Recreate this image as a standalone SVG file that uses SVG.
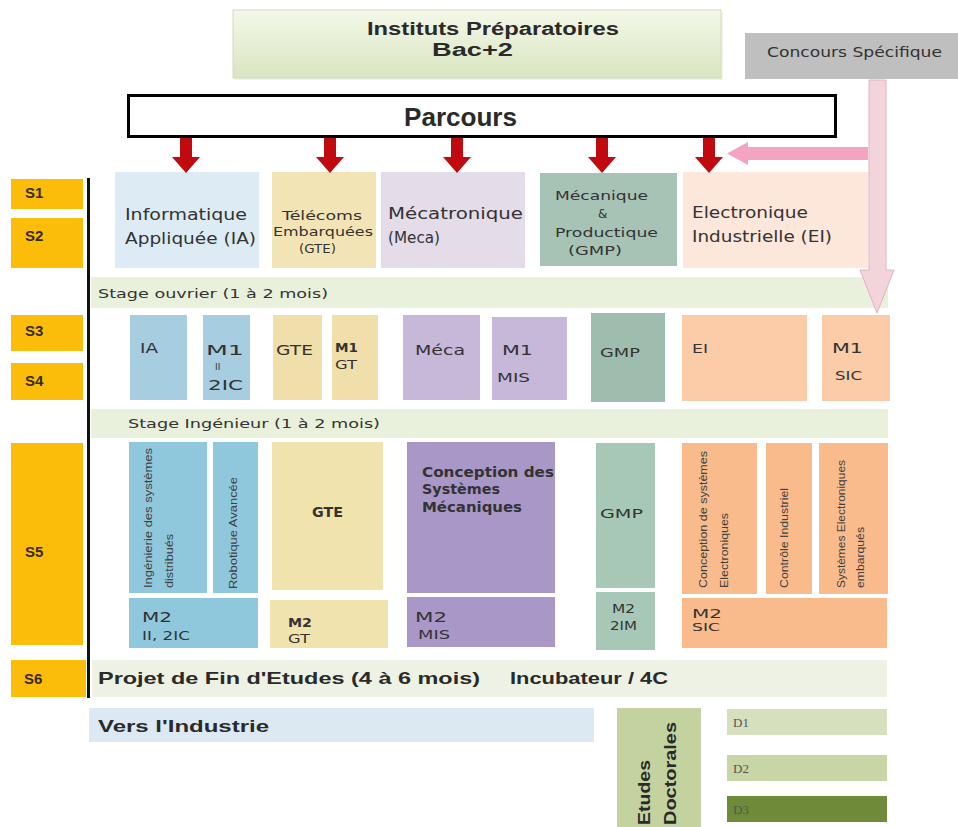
<svg xmlns="http://www.w3.org/2000/svg" width="958" height="827" viewBox="0 0 958 827">
<defs>
<linearGradient id="gTop" x1="0" y1="0" x2="0" y2="1">
<stop offset="0" stop-color="#f3f8e8"/>
<stop offset="1" stop-color="#d9e6c0"/>
</linearGradient>
<style>
.t{font-family:"DejaVu Sans","Liberation Sans",sans-serif;fill:#333333}
.b{font-family:"Liberation Sans","DejaVu Sans",sans-serif;font-weight:bold;fill:#2a2a2a}
.s{font-family:"Liberation Sans","DejaVu Sans",sans-serif;font-weight:bold;font-size:15px;fill:#3a2a10}
.v{font-family:"Liberation Sans","DejaVu Sans",sans-serif;font-size:11px;fill:#404040}
.d{font-family:"Liberation Serif","DejaVu Serif",serif;font-size:13px;fill:#555555}
.sem{fill:#fbbd0a}
.redArrow{fill:#c00a10}
</style>
</defs>
<rect width="958" height="827" fill="#ffffff"/>

<g id="instituts">
<rect x="235" y="12" width="488" height="68" fill="#e6e9df" opacity="0.6"/>
<rect x="233" y="10" width="488" height="68" fill="url(#gTop)" stroke="#d3dcbf" stroke-width="1"/>
<text class="b" x="367" y="35" font-size="18" textLength="252" lengthAdjust="spacingAndGlyphs">Instituts Préparatoires</text>
<text class="b" x="432" y="56" font-size="18" textLength="81" lengthAdjust="spacingAndGlyphs">Bac+2</text>
</g>

<g id="concours">
<rect x="745" y="33" width="213" height="46" fill="#bfbfbf"/>
<text class="t" x="767" y="57" font-size="14" fill="#333" textLength="175" lengthAdjust="spacingAndGlyphs">Concours Spécifique</text>
</g>

<g id="parcours">
<rect x="128.5" y="95.5" width="707" height="41" fill="#ffffff" stroke="#000000" stroke-width="3"/>
<text class="b" x="404" y="126" font-size="25" fill="#1a1a1a" textLength="113" lengthAdjust="spacingAndGlyphs">Parcours</text>
</g>

<g id="semestres">
<rect class="sem" x="11" y="179" width="72" height="30"/>
<text class="s" x="25" y="198">S1</text>
<rect class="sem" x="11" y="218" width="72" height="50"/>
<text class="s" x="25" y="241">S2</text>
<rect class="sem" x="11" y="315" width="72" height="36"/>
<text class="s" x="25" y="336">S3</text>
<rect class="sem" x="11" y="363" width="72" height="37"/>
<text class="s" x="25" y="386">S4</text>
<rect class="sem" x="11" y="443" width="72" height="202"/>
<text class="s" x="25" y="557">S5</text>
<rect class="sem" x="11" y="660" width="75" height="37"/>
<text class="s" x="24" y="684">S6</text>
<line x1="88.5" y1="178" x2="88.5" y2="698" stroke="#111111" stroke-width="3"/>
</g>

<g id="row1">
<g id="n-ia">
<rect x="115" y="172" width="144" height="96" fill="#dcebf4"/>
<text class="t" x="125" y="220" font-size="16" textLength="122" lengthAdjust="spacingAndGlyphs">Informatique</text>
<text class="t" x="125" y="244" font-size="16" textLength="131" lengthAdjust="spacingAndGlyphs">Appliquée (IA)</text>
</g>
<g id="n-gte">
<rect x="272" y="172" width="104" height="96" fill="#f3e4b6"/>
<text class="t" x="282" y="220" font-size="13" textLength="80" lengthAdjust="spacingAndGlyphs">Télécoms</text>
<text class="t" x="273" y="236" font-size="13" textLength="100" lengthAdjust="spacingAndGlyphs">Embarquées</text>
<text class="t" x="299" y="253" font-size="13" textLength="37" lengthAdjust="spacingAndGlyphs">(GTE)</text>
</g>
<g id="n-meca">
<rect x="381" y="172" width="144" height="96" fill="#e4dce9"/>
<text class="t" x="388" y="219" font-size="16" textLength="135" lengthAdjust="spacingAndGlyphs">Mécatronique</text>
<text class="t" x="388" y="243" font-size="16" textLength="52" lengthAdjust="spacingAndGlyphs">(Meca)</text>
</g>
<g id="n-gmp">
<rect x="540" y="173" width="137" height="93" fill="#a7c3b6"/>
<text class="t" x="555" y="200" font-size="12" textLength="93" lengthAdjust="spacingAndGlyphs">Mécanique</text>
<text class="t" x="598" y="218" font-size="12">&amp;</text>
<text class="t" x="555" y="237" font-size="12" textLength="103" lengthAdjust="spacingAndGlyphs">Productique</text>
<text class="t" x="568" y="255" font-size="12" textLength="54" lengthAdjust="spacingAndGlyphs">(GMP)</text>
</g>
<g id="n-ei">
<rect x="683" y="172" width="185" height="96" fill="#fde6da"/>
<text class="t" x="692" y="218" font-size="16" textLength="116" lengthAdjust="spacingAndGlyphs">Electronique</text>
<text class="t" x="692" y="242" font-size="16" textLength="140" lengthAdjust="spacingAndGlyphs">Industrielle (EI)</text>
</g>
</g>

<g id="stage-ouvrier">
<rect x="91" y="277" width="797" height="31" fill="#e9f0dc"/>
<text class="t" x="98" y="298" font-size="13" textLength="230" lengthAdjust="spacingAndGlyphs">Stage ouvrier (1 à 2 mois)</text>
</g>

<g id="row2">
<g id="n-ia-s3"><rect x="130" y="315" width="57" height="85" fill="#a6cde0"/>
<text class="t" x="140" y="353" font-size="14" textLength="18" lengthAdjust="spacingAndGlyphs">IA</text></g>
<g id="n-m1-ii"><rect x="203" y="315" width="47" height="85" fill="#a6cde0"/>
<text class="t" x="206" y="355" font-size="14" textLength="38" lengthAdjust="spacingAndGlyphs">M1</text>
<text class="t" x="215" y="370" font-size="9">II</text>
<text class="t" x="208" y="390" font-size="14" textLength="35" lengthAdjust="spacingAndGlyphs">2IC</text></g>
<g id="n-gte-s3"><rect x="273" y="315" width="49" height="85" fill="#f0dfaa"/>
<text class="t" x="276" y="355" font-size="14" textLength="37" lengthAdjust="spacingAndGlyphs">GTE</text></g>
<g id="n-m1-gt"><rect x="332" y="315" width="46" height="85" fill="#f0dfaa"/>
<text class="t" x="335" y="352" font-size="13" font-weight="bold" textLength="23" lengthAdjust="spacingAndGlyphs">M1</text>
<text class="t" x="335" y="369" font-size="13" textLength="22" lengthAdjust="spacingAndGlyphs">GT</text></g>
<g id="n-meca-s3"><rect x="403" y="315" width="77" height="85" fill="#c7b8d9"/>
<text class="t" x="415" y="355" font-size="14" textLength="50" lengthAdjust="spacingAndGlyphs">Méca</text></g>
<g id="n-m1-mis"><rect x="492" y="317" width="75" height="83" fill="#c7b8d9"/>
<text class="t" x="502" y="355" font-size="14" textLength="31" lengthAdjust="spacingAndGlyphs">M1</text>
<text class="t" x="497" y="382" font-size="13" textLength="33" lengthAdjust="spacingAndGlyphs">MIS</text></g>
<g id="n-gmp-s3"><rect x="591" y="313" width="74" height="89" fill="#9fbdaf"/>
<text class="t" x="600" y="357" font-size="13" textLength="40" lengthAdjust="spacingAndGlyphs">GMP</text></g>
<g id="n-ei-s3"><rect x="682" y="315" width="125" height="86" fill="#fccca8"/>
<text class="t" x="692" y="353" font-size="13" textLength="16" lengthAdjust="spacingAndGlyphs">EI</text></g>
<g id="n-m1-sic"><rect x="822" y="315" width="68" height="86" fill="#fccca8"/>
<text class="t" x="832" y="353" font-size="14" textLength="31" lengthAdjust="spacingAndGlyphs">M1</text>
<text class="t" x="835" y="380" font-size="12" textLength="27" lengthAdjust="spacingAndGlyphs">SIC</text></g>
</g>

<g id="stage-ingenieur">
<rect x="91" y="409" width="797" height="29" fill="#e9f0dc"/>
<text class="t" x="128" y="428" font-size="13" textLength="252" lengthAdjust="spacingAndGlyphs">Stage Ingénieur (1 à 2 mois)</text>
</g>

<g id="row3">
<g id="n-isd"><rect x="129" y="442" width="78" height="151" fill="#8fc8dc"/>
<text class="v" transform="translate(152,588) rotate(-90)"><tspan x="0" y="0" textLength="140" lengthAdjust="spacingAndGlyphs">Ingénierie des systèmes</tspan><tspan x="0" y="21" textLength="54" lengthAdjust="spacingAndGlyphs">distribués</tspan></text></g>
<g id="n-rob"><rect x="213" y="442" width="45" height="151" fill="#8fc8dc"/>
<text class="v" transform="translate(237,589) rotate(-90)" font-size="12" textLength="112" lengthAdjust="spacingAndGlyphs">Robotique Avancée</text></g>
<g id="n-m2-ia"><rect x="129" y="598" width="129" height="50" fill="#8fc8dc"/>
<text class="t" x="142" y="622" font-size="14" textLength="30" lengthAdjust="spacingAndGlyphs">M2</text>
<text class="t" x="142" y="640" font-size="13" textLength="48" lengthAdjust="spacingAndGlyphs">II, 2IC</text></g>
<g id="n-gte-s5"><rect x="272" y="442" width="111" height="148" fill="#f1e3ae"/>
<text class="t" x="312" y="517" font-size="14" font-weight="bold" textLength="31" lengthAdjust="spacingAndGlyphs">GTE</text></g>
<g id="n-m2-gt"><rect x="270" y="600" width="118" height="48" fill="#f1e3ae"/>
<text class="t" x="288" y="627" font-size="13" font-weight="bold" textLength="24" lengthAdjust="spacingAndGlyphs">M2</text>
<text class="t" x="288" y="643" font-size="13" textLength="22" lengthAdjust="spacingAndGlyphs">GT</text></g>
<g id="n-csm"><rect x="407" y="442" width="148" height="151" fill="#a997c7"/>
<text class="t" x="422" y="477" font-size="14" font-weight="bold" fill="#28204a" textLength="132" lengthAdjust="spacingAndGlyphs">Conception des</text>
<text class="t" x="422" y="494" font-size="14" font-weight="bold" fill="#28204a" textLength="78" lengthAdjust="spacingAndGlyphs">Systèmes</text>
<text class="t" x="422" y="512" font-size="14" font-weight="bold" fill="#28204a" textLength="100" lengthAdjust="spacingAndGlyphs">Mécaniques</text></g>
<g id="n-m2-mis"><rect x="407" y="597" width="148" height="50" fill="#a997c7"/>
<text class="t" x="415" y="622" font-size="14" textLength="32" lengthAdjust="spacingAndGlyphs">M2</text>
<text class="t" x="418" y="639" font-size="13" textLength="32" lengthAdjust="spacingAndGlyphs">MIS</text></g>
<g id="n-gmp-s5"><rect x="596" y="443" width="59" height="145" fill="#a7c8b7"/>
<text class="t" x="600" y="518" font-size="13" textLength="43" lengthAdjust="spacingAndGlyphs">GMP</text></g>
<g id="n-m2-2im"><rect x="596" y="592" width="59" height="58" fill="#a7c8b7"/>
<text class="t" x="612" y="613" font-size="12" textLength="23" lengthAdjust="spacingAndGlyphs">M2</text>
<text class="t" x="610" y="630" font-size="12" textLength="27" lengthAdjust="spacingAndGlyphs">2IM</text></g>
<g id="n-cse"><rect x="682" y="443" width="75" height="151" fill="#f9bb8c"/>
<text class="v" transform="translate(707,588) rotate(-90)"><tspan x="0" y="0" textLength="137" lengthAdjust="spacingAndGlyphs">Conception de systèmes</tspan><tspan x="0" y="21" textLength="75" lengthAdjust="spacingAndGlyphs">Electroniques</tspan></text></g>
<g id="n-ci"><rect x="766" y="443" width="46" height="151" fill="#f9bb8c"/>
<text class="v" transform="translate(788,588) rotate(-90)" textLength="100" lengthAdjust="spacingAndGlyphs">Contrôle Industriel</text></g>
<g id="n-see"><rect x="819" y="443" width="69" height="151" fill="#f9bb8c"/>
<text class="v" transform="translate(845,588) rotate(-90)"><tspan x="0" y="0" textLength="128" lengthAdjust="spacingAndGlyphs">Systèmes Electroniques</tspan><tspan x="0" y="19" textLength="61" lengthAdjust="spacingAndGlyphs">embarqués</tspan></text></g>
<g id="n-m2-sic"><rect x="682" y="598" width="205" height="50" fill="#f9bb8c"/>
<text class="t" x="692" y="618" font-size="13" textLength="30" lengthAdjust="spacingAndGlyphs">M2</text>
<text class="t" x="692" y="631" font-size="11" textLength="28" lengthAdjust="spacingAndGlyphs">SIC</text></g>
</g>

<g id="pfe">
<rect x="92" y="660" width="795" height="37" fill="#eef2e5"/>
<text class="b" x="98" y="684" font-size="17" textLength="382" lengthAdjust="spacingAndGlyphs">Projet de Fin d'Etudes (4 à 6 mois)</text>
<text class="b" x="510" y="684" font-size="17" textLength="158" lengthAdjust="spacingAndGlyphs">Incubateur / 4C</text>
</g>

<g id="industrie">
<rect x="89" y="708" width="505" height="34" fill="#dce9f3"/>
<text class="b" x="98" y="732" font-size="17" textLength="171" lengthAdjust="spacingAndGlyphs">Vers l'Industrie</text>
</g>

<g id="doctorales">
<rect x="617" y="708" width="84" height="119" fill="#c4d2a0"/>
<text class="b" transform="translate(650,825) rotate(-90)" font-size="17"><tspan x="0" y="0" textLength="65" lengthAdjust="spacingAndGlyphs">Etudes</tspan><tspan x="0" y="26" textLength="103" lengthAdjust="spacingAndGlyphs">Doctorales</tspan></text>
</g>
<g id="d1"><rect x="727" y="709" width="160" height="26" fill="#d6e0bf"/><text class="d" x="733" y="727">D1</text></g>
<g id="d2"><rect x="727" y="755" width="160" height="26" fill="#c8d6a6"/><text class="d" x="733" y="773">D2</text></g>
<g id="d3"><rect x="727" y="796" width="160" height="26" fill="#6f8b3a"/><text class="d" x="733" y="814" fill="#3b4a20">D3</text></g>

<g id="connectors">
<polygon class="redArrow" points="180,138 192,138 192,157 200,157 186,173 172,157 180,157"/>
<polygon class="redArrow" points="324,138 336,138 336,157 344,157 330,173 316,157 324,157"/>
<polygon class="redArrow" points="451,138 463,138 463,157 471,157 457,173 443,157 451,157"/>
<polygon class="redArrow" points="596,138 608,138 608,157 616,157 602,173 588,157 596,157"/>
<polygon class="redArrow" points="703,138 715,138 715,157 723,157 709,173 695,157 703,157"/>
<polygon points="868,147 748,147 748,142 727,153.5 748,165 748,160 868,160" fill="#f4a3c0"/>
<polygon points="869,80 886,80 886,270 894,270 877,313 860,270 869,270" fill="#f3d4db" stroke="#e2b2be" stroke-width="1"/>
</g>
</svg>
